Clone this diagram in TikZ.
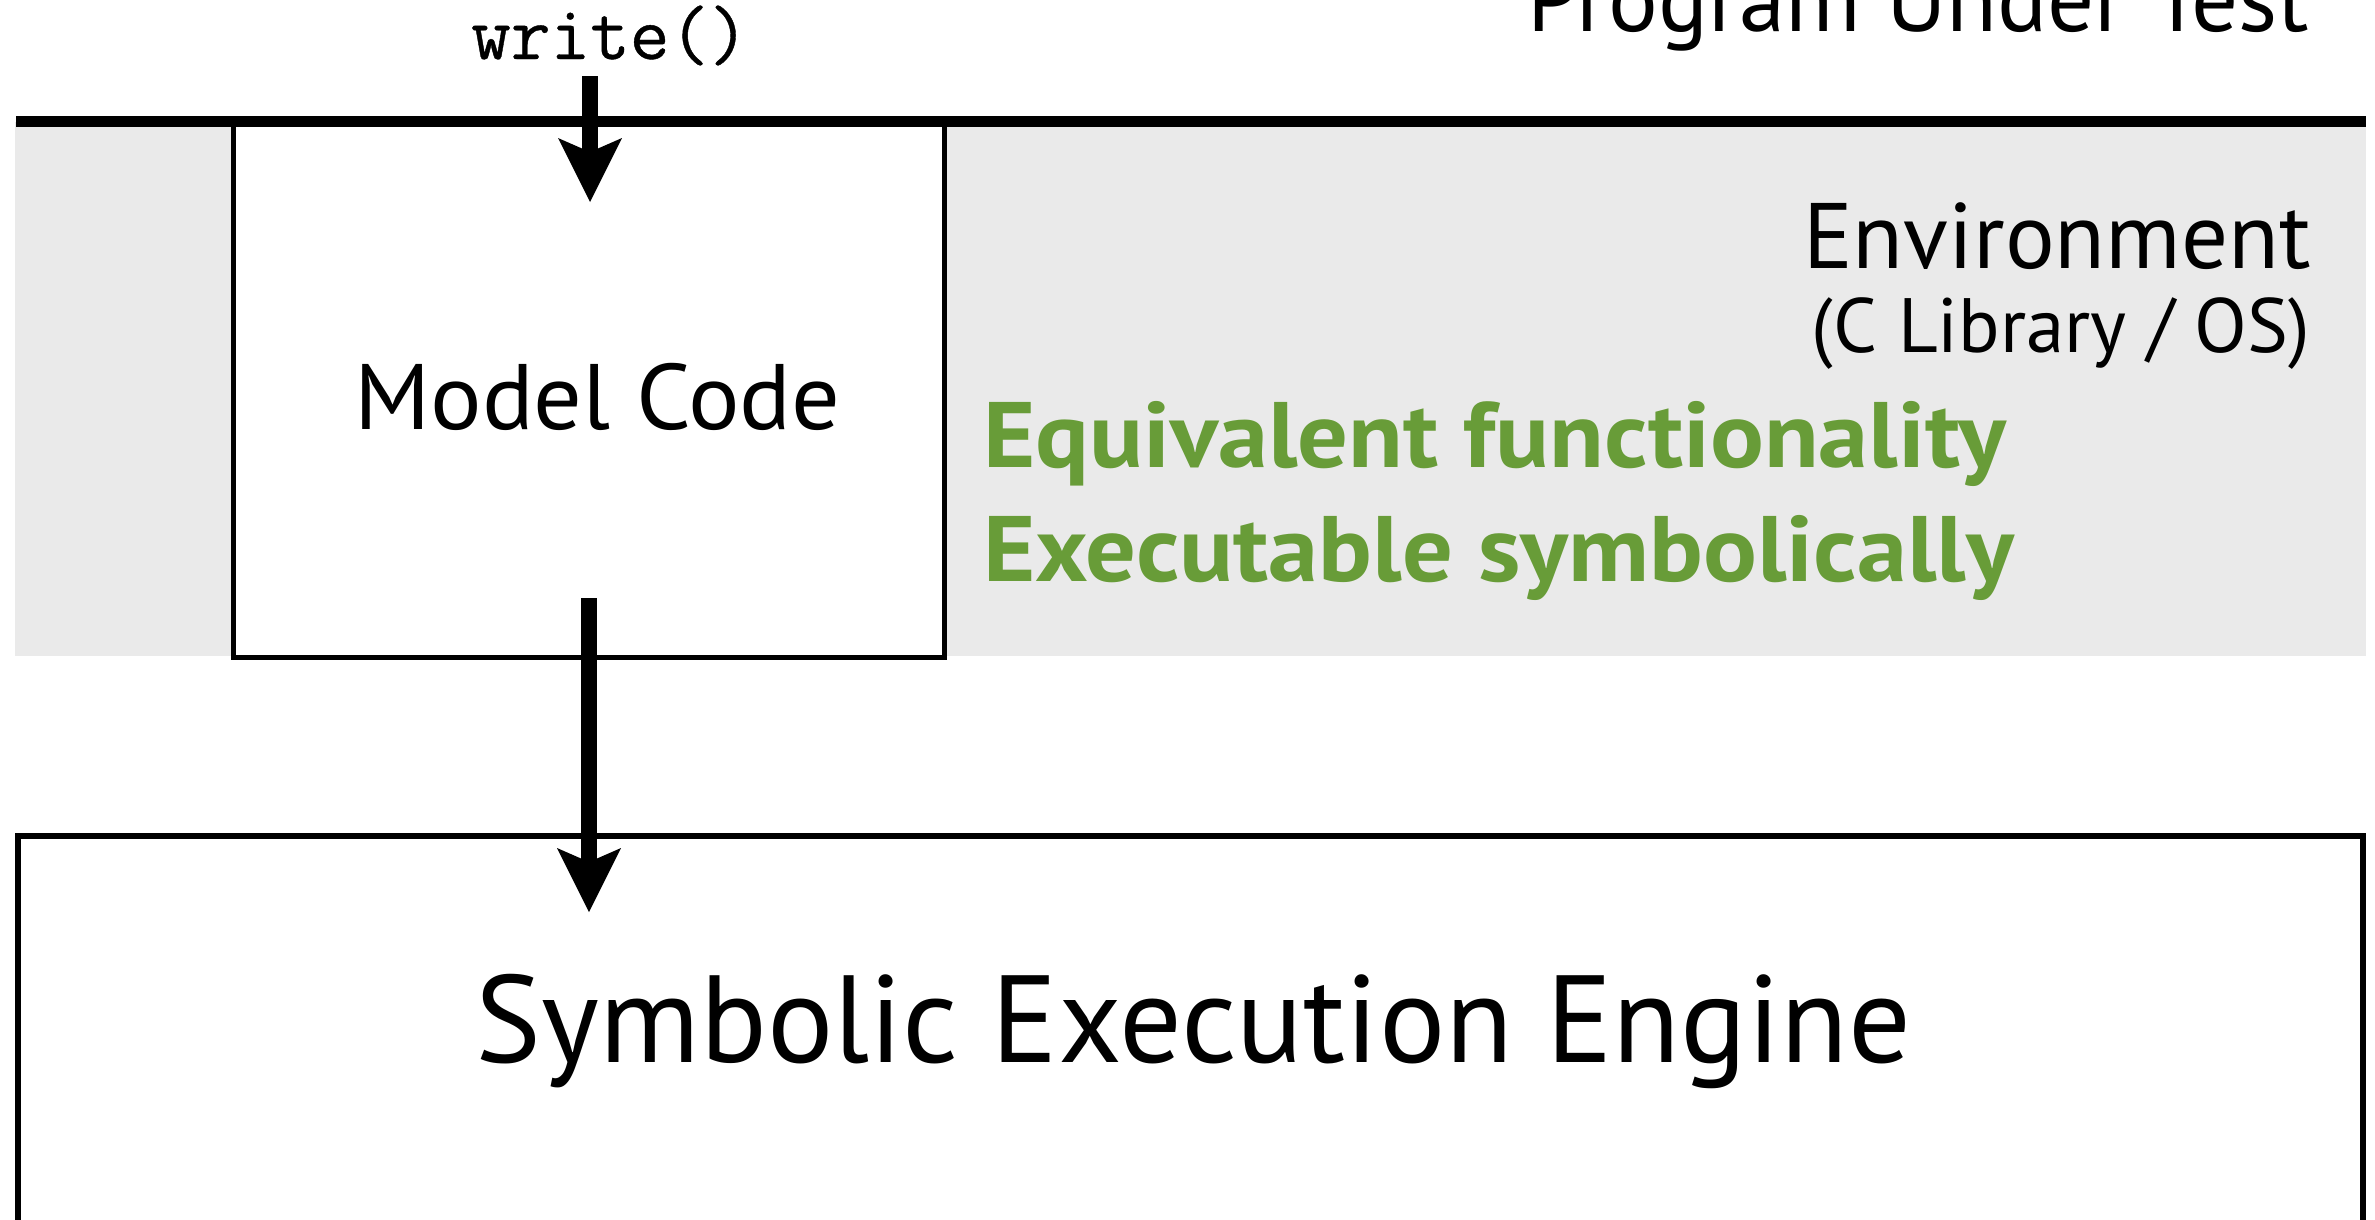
\documentclass[tikz,border=0pt]{standalone}
\usepackage{fontspec}
\setmainfont{PT Sans}
\newfontfamily\widesans[FakeStretch=1.035]{PT Sans}
\newfontfamily\featsans[FakeStretch=1.08]{PT Sans}
\newfontfamily\codemono[FakeBold=0.5]{Latin Modern Mono}
\usetikzlibrary{arrows.meta}
\definecolor{envgray}{RGB}{234,234,234}
\definecolor{featgreen}{RGB}{104,156,56}
\begin{document}
\begin{tikzpicture}[x=1pt,y=-1pt,
  bigarrow/.style={line width=16pt,
    -{Stealth[length=64pt,width=64pt,inset=14pt,line width=0pt]}},
  txt/.style={inner sep=0pt, outer sep=0pt},
  bigfont/.style={font=\fontsize{93}{110}\selectfont},
  modelfont/.style={font=\widesans\fontsize{93}{110}\selectfont},
  smallfont/.style={font=\fontsize{77}{95}\selectfont},
  enginefont/.style={font=\fontsize{124}{140}\selectfont},
  greenfont/.style={font=\featsans\bfseries\fontsize{93}{110}\selectfont, text=featgreen},
  codefont/.style={font=\codemono\fontsize{77}{85}\selectfont}]
\useasboundingbox (0,0) rectangle (2375,1219);
\clip (0,0) rectangle (2375,1219);

% environment band
\fill[envgray] (15,122) rectangle (2366,656);

% model code box
\node[draw, fill=white, line width=5pt, minimum width=711pt, minimum height=532.5pt,
      inner sep=0pt, anchor=north west] (model) at (231,122) {};
\node[txt, modelfont, anchor=base] (modeltxt) at (597.5,429) {Model Code};

% program / environment boundary
\draw[line width=11pt] (16,121.5) -- (2366,121.5);

% labels
\node[txt, bigfont, anchor=base east] (prog) at (2309,31) {Program Under Test};
\node[txt, bigfont, anchor=base east] (env) at (2311,268) {Environment};
\node[txt, smallfont, anchor=base east] (envsub) at (2310,352) {(C Library / OS)};
\node[txt, greenfont, anchor=base west] (feat1) at (983,467) {Equivalent functionality};
\node[txt, greenfont, anchor=base west] (feat2) at (983,581) {Executable symbolically};
\node[txt, codefont, anchor=base] (call) at (610,59) {write()};

% symbolic execution engine
\draw[line width=6pt] (18,1300) -- (18,836) -- (2363,836) -- (2363,1300);
\node[txt, enginefont, anchor=base] (engine) at (1193.5,1062) {Symbolic Execution Engine};

% call into the model, and model down to the engine
\coordinate (callIn) at (590,202);
\coordinate (callStart) at (590,76);
\coordinate (modelOut) at (589,598);
\coordinate (engIn) at (589,912);
\draw[bigarrow] (callStart) -- (callIn);
\draw[bigarrow] (modelOut) -- (engIn);
\end{tikzpicture}
\end{document}
